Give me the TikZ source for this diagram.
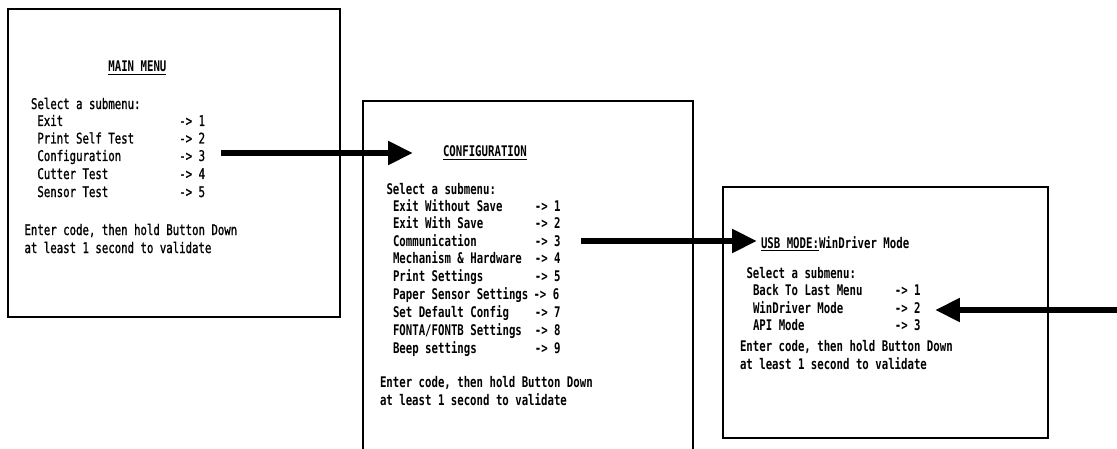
\documentclass[tikz,border=0pt]{standalone}
\usepackage{fontspec}
\newfontfamily\mono[FakeStretch=0.73]{DejaVu Sans Mono}
\newfontfamily\monomed[FakeStretch=0.73,FakeBold=1]{DejaVu Sans Mono}
\usetikzlibrary{arrows.meta,fit}
\tikzset{
  txt/.style={anchor=base west, inner sep=0pt, outer sep=0pt, font=\monomed\fontsize{11pt}{12pt}\selectfont},
  txtb/.style={anchor=base west, inner sep=0pt, outer sep=0pt, font=\mono\bfseries\fontsize{11pt}{12pt}\selectfont},
  frame/.style={draw=black, line width=1.4pt, inner sep=0pt},
  bigarrow/.style={draw=black, line width=4.5pt, -{Triangle[length=18.75pt,width=17pt]}}
}
\begin{document}
\begin{tikzpicture}[x=0.75pt,y=-0.75pt]
\useasboundingbox (0,0) rectangle (1117,449);
\clip (0,0) rectangle (1117,449);
\fill[white] (0,0) rectangle (1117,449);

% frames
\node[frame, fit={(8,9) (340,317)}] (box1) {};
\node[frame, fit={(363,101) (693,470)}] (box2) {};
\node[frame, fit={(723,187) (1048,438)}] (box3) {};

% box 1: MAIN MENU
\node[txtb] (b1title) at (108.4,72) {\underline{MAIN MENU}};
\node[txt] (b1sel) at (31,109) {Select a submenu:};
\node[txt] (b1i1) at (37.4,126) {Exit};
\node[txt] (b1i2) at (37.4,143.5) {Print Self Test};
\node[txt] (b1i3) at (37.4,161) {Configuration};
\node[txt] (b1i4) at (37.4,179) {Cutter Test};
\node[txt] (b1i5) at (37.4,197) {Sensor Test};
\node[txt] (b1a1) at (179.3,126) {-> 1};
\node[txt] (b1a2) at (179.3,143.5) {-> 2};
\node[txt] (b1a3) at (179.3,161) {-> 3};
\node[txt] (b1a4) at (179.3,179) {-> 4};
\node[txt] (b1a5) at (179.3,197) {-> 5};
\node[txt] (b1e1) at (24.5,235) {Enter code, then hold Button Down};
\node[txt] (b1e2) at (24.5,253) {at least 1 second to validate};

% box 2: CONFIGURATION
\node[txtb] (b2title) at (443,157) {\underline{CONFIGURATION}};
\node[txtb] (b2sel) at (386.5,195) {Select a submenu:};
\node[txtb] (b2i1) at (393,211) {Exit Without Save};
\node[txtb] (b2i2) at (393,228.5) {Exit With Save};
\node[txtb] (b2i3) at (393,246) {Communication};
\node[txtb] (b2i4) at (393,263.5) {Mechanism \& Hardware};
\node[txtb] (b2i5) at (393,281) {Print Settings};
\node[txtb] (b2i6) at (393,299) {Paper Sensor Settings};
\node[txtb] (b2i7) at (393,317) {Set Default Config};
\node[txtb] (b2i8) at (393,335) {FONTA/FONTB Settings};
\node[txtb] (b2i9) at (393,353) {Beep settings};
\node[txtb] (b2a1) at (534.8,211) {-> 1};
\node[txtb] (b2a2) at (534.8,228.5) {-> 2};
\node[txtb] (b2a3) at (534.8,246) {-> 3};
\node[txtb] (b2a4) at (534.8,263.5) {-> 4};
\node[txtb] (b2a5) at (534.8,281) {-> 5};
\node[txtb] (b2a6) at (533.5,299) {-> 6};
\node[txtb] (b2a7) at (534.8,317) {-> 7};
\node[txtb] (b2a8) at (534.8,335) {-> 8};
\node[txtb] (b2a9) at (534.8,353) {-> 9};
\node[txtb] (b2e1) at (380,387) {Enter code, then hold Button Down};
\node[txtb] (b2e2) at (380,405) {at least 1 second to validate};

% box 3: USB MODE
\node[txtb] (b3title) at (761,248) {\underline{USB MODE:}WinDriver Mode};
\node[txtb] (b3sel) at (746.5,278) {Select a submenu:};
\node[txtb] (b3i1) at (753,295) {Back To Last Menu};
\node[txtb] (b3i2) at (753,313) {WinDriver Mode};
\node[txtb] (b3i3) at (753,330) {API Mode};
\node[txtb] (b3a1) at (894.8,295) {-> 1};
\node[txtb] (b3a2) at (894.8,313) {-> 2};
\node[txtb] (b3a3) at (894.8,330) {-> 3};
\node[txtb] (b3e1) at (740,351) {Enter code, then hold Button Down};
\node[txtb] (b3e2) at (740,369) {at least 1 second to validate};

% connectors
\coordinate (a3start) at (1118,310);
\draw[bigarrow] ([xshift=12pt,yshift=6pt]b1a3.base east) -- ([xshift=-22.5pt,yshift=3pt]b2title.base west);
\draw[bigarrow] ([xshift=15.3pt,yshift=3.75pt]b2a3.base east) -- ([xshift=-3pt,yshift=5.25pt]b3title.base west);
\draw[bigarrow] (a3start) -- ([xshift=10.8pt]a3start -| b3a2.base east);
\end{tikzpicture}
\end{document}
